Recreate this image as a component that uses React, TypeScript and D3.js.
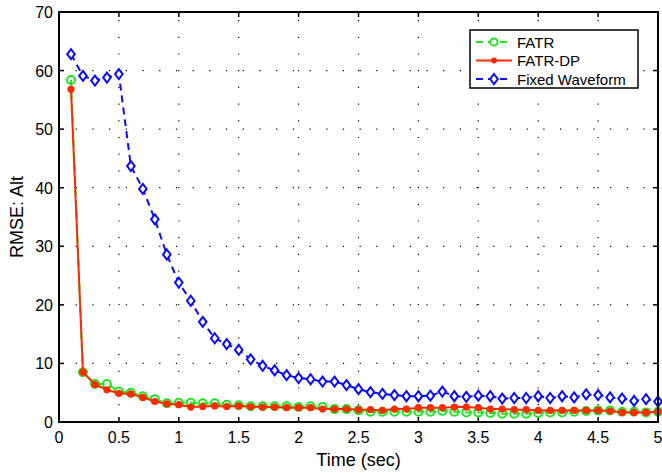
import React, { useRef, useEffect } from 'react';
import * as d3 from 'd3';

const times = d3.range(1, 51).map(i => i / 10);

const fatr = [
  58.4, 8.5, 6.5, 6.5, 5.2, 5.0, 4.4, 3.9, 3.2, 3.3,
  3.3, 3.2, 3.2, 2.95, 2.85, 2.7, 2.7, 2.7, 2.7, 2.55,
  2.67, 2.55, 2.2, 2.2, 2.0, 1.76, 1.76, 1.76, 1.76, 1.76,
  1.76, 1.9, 1.76, 1.64, 1.64, 1.53, 1.42, 1.42, 1.42, 1.53,
  1.64, 1.64, 1.76, 1.87, 1.98, 1.98, 1.76, 1.76, 1.64, 1.76
];

const fatrDp = [
  56.8, 8.5, 6.4, 5.5, 4.9, 4.8, 4.2, 3.5, 3.1, 2.95,
  2.55, 2.65, 2.75, 2.65, 2.75, 2.6, 2.55, 2.55, 2.44, 2.44,
  2.44, 2.21, 2.21, 2.21, 2.1, 2.1, 1.98, 2.21, 2.21, 2.44,
  2.44, 2.44, 2.55, 2.55, 2.44, 2.21, 2.21, 2.1, 2.1, 1.98,
  1.98, 1.98, 1.98, 1.98, 1.98, 1.87, 1.64, 1.64, 1.64, 1.76
];

const fixedWaveform = [
  62.8, 59.1, 58.3, 58.8, 59.4, 43.7, 39.8, 34.6, 28.6, 23.8,
  20.7, 17.1, 14.3, 13.3, 12.3, 10.7, 9.6, 8.8, 8.0, 7.5,
  7.3, 6.9, 6.9, 6.3, 5.6, 5.1, 4.8, 4.6, 4.4, 4.4,
  4.5, 5.2, 4.4, 4.3, 4.5, 4.4, 4.0, 4.1, 4.1, 4.4,
  4.1, 4.4, 4.2, 4.7, 4.6, 4.2, 4.0, 3.6, 3.9, 3.5
];

const xTicks = [0, 0.5, 1, 1.5, 2, 2.5, 3, 3.5, 4, 4.5, 5];
const yTicks = [0, 10, 20, 30, 40, 50, 60, 70];

const seriesNames = ['FATR', 'FATR-DP', 'Fixed Waveform'];

function App() {
  const svgRef = useRef();

  useEffect(() => {
    const width = 662;
    const height = 473;
    const marginLeft = 59;
    const marginRight = 4;
    const marginTop = 12;
    const marginBottom = 51;
    const font = '"Liberation Sans", Arial, sans-serif';

    const x = d3.scaleLinear().domain([0, 5]).range([marginLeft, width - marginRight]);
    const y = d3.scaleLinear().domain([0, 70]).range([height - marginBottom, marginTop]);

    const svg = d3.select(svgRef.current);
    svg.selectAll('*').remove();
    svg.attr('width', width).attr('height', height)
      .attr('viewBox', [0, 0, width, height])
      .style('font-family', font);

    svg.append('rect').attr('width', width).attr('height', height).attr('fill', 'white');

    // dotted grid
    const grid = svg.append('g').attr('stroke', 'black').attr('stroke-width', 1.2)
      .attr('stroke-dasharray', '1.2,15.5');
    grid.selectAll('.vx').data(xTicks.slice(1, -1)).join('line')
      .attr('x1', d => x(d)).attr('x2', d => x(d))
      .attr('y1', y(0)).attr('y2', y(70));
    grid.selectAll('.hy').data(yTicks.slice(1, -1)).join('line')
      .attr('x1', x(0)).attr('x2', x(5))
      .attr('y1', d => y(d)).attr('y2', d => y(d));

    // ticks on all sides (inward)
    const tl = 5;
    const ticks = svg.append('g').attr('stroke', 'black').attr('stroke-width', 1.5);
    xTicks.forEach(d => {
      ticks.append('line').attr('x1', x(d)).attr('x2', x(d)).attr('y1', y(0)).attr('y2', y(0) - tl);
      ticks.append('line').attr('x1', x(d)).attr('x2', x(d)).attr('y1', y(70)).attr('y2', y(70) + tl);
    });
    yTicks.forEach(d => {
      ticks.append('line').attr('x1', x(0)).attr('x2', x(0) + tl).attr('y1', y(d)).attr('y2', y(d));
      ticks.append('line').attr('x1', x(5)).attr('x2', x(5) - tl).attr('y1', y(d)).attr('y2', y(d));
    });

    const data = times.map((t, i) => ({ t, a: fatr[i], b: fatrDp[i], c: fixedWaveform[i] }));

    const lineOf = key => d3.line().x(d => x(d.t)).y(d => y(d[key]));

    const green = '#1fe61f';
    const red = '#ff2a00';
    const blue = '#0a0aff';

    // small MATLAB-like diamond
    const diamond = 'M0,-5L3.8,0L0,5L-3.8,0Z';

    // FATR (green dashed, open circles)
    svg.append('path').attr('fill', 'none').attr('stroke', green).attr('stroke-width', 2)
      .attr('stroke-dasharray', '7,5').attr('d', lineOf('a')(data));
    svg.append('g').selectAll('circle').data(data).join('circle')
      .attr('cx', d => x(d.t)).attr('cy', d => y(d.a)).attr('r', 4)
      .attr('fill', 'none').attr('stroke', green).attr('stroke-width', 2);

    // Fixed Waveform (blue dashed, diamonds)
    svg.append('path').attr('fill', 'none').attr('stroke', blue).attr('stroke-width', 2)
      .attr('stroke-dasharray', '7,5').attr('d', lineOf('c')(data));
    svg.append('g').selectAll('path').data(data).join('path')
      .attr('transform', d => `translate(${x(d.t)},${y(d.c)})`)
      .attr('d', diamond).attr('fill', 'white').attr('stroke', blue).attr('stroke-width', 2);

    // FATR-DP (red solid, filled dots)
    svg.append('path').attr('fill', 'none').attr('stroke', red).attr('stroke-width', 2)
      .attr('d', lineOf('b')(data));
    svg.append('g').selectAll('circle').data(data).join('circle')
      .attr('cx', d => x(d.t)).attr('cy', d => y(d.b)).attr('r', 3.6)
      .attr('fill', red);

    // axes box
    svg.append('rect').attr('x', x(0)).attr('y', y(70))
      .attr('width', x(5) - x(0)).attr('height', y(0) - y(70))
      .attr('fill', 'none').attr('stroke', 'black').attr('stroke-width', 2);

    // tick labels
    svg.append('g').selectAll('text').data(xTicks).join('text')
      .attr('x', d => x(d)).attr('y', y(0) + 21)
      .attr('text-anchor', 'middle').attr('font-size', 16)
      .text(d => d3.format('')(d));
    svg.append('g').selectAll('text').data(yTicks).join('text')
      .attr('x', x(0) - 6).attr('y', d => y(d) + 6)
      .attr('text-anchor', 'end').attr('font-size', 16)
      .text(d => d);

    svg.append('text').attr('x', (x(0) + x(5)) / 2).attr('y', height - 7)
      .attr('text-anchor', 'middle').attr('font-size', 18).text('Time (sec)');
    svg.append('text')
      .attr('transform', `translate(23,${(y(0) + y(70)) / 2}) rotate(-90)`)
      .attr('text-anchor', 'middle').attr('font-size', 18).text('RMSE: Alt');

    // legend
    const lg = svg.append('g').attr('transform', 'translate(470,30)');
    lg.append('rect').attr('width', 168).attr('height', 58)
      .attr('fill', 'white').attr('stroke', 'black').attr('stroke-width', 1.5);
    const colors = [green, red, blue];
    const dashes = ['7,5', null, '7,5'];
    seriesNames.forEach((name, i) => {
      const cy = 12 + i * 18.5;
      lg.append('line').attr('x1', 6).attr('x2', 42).attr('y1', cy).attr('y2', cy)
        .attr('stroke', colors[i]).attr('stroke-width', 2)
        .attr('stroke-dasharray', dashes[i]);
      if (i === 0) {
        lg.append('circle').attr('cx', 24).attr('cy', cy).attr('r', 3.6)
          .attr('fill', 'white').attr('stroke', green).attr('stroke-width', 2);
      } else if (i === 1) {
        lg.append('circle').attr('cx', 24).attr('cy', cy).attr('r', 3).attr('fill', red);
      } else {
        lg.append('path').attr('transform', `translate(24,${cy})`)
          .attr('d', diamond).attr('fill', 'white').attr('stroke', blue).attr('stroke-width', 2);
      }
      lg.append('text').attr('x', 47).attr('y', cy + 5.5).attr('font-size', 15).text(name);
    });
  }, []);

  return (
    <div style={{ position: 'absolute', left: 0, top: 0 }}>
      <svg ref={svgRef} style={{ display: 'block' }}></svg>
    </div>
  );
}

export default App;
